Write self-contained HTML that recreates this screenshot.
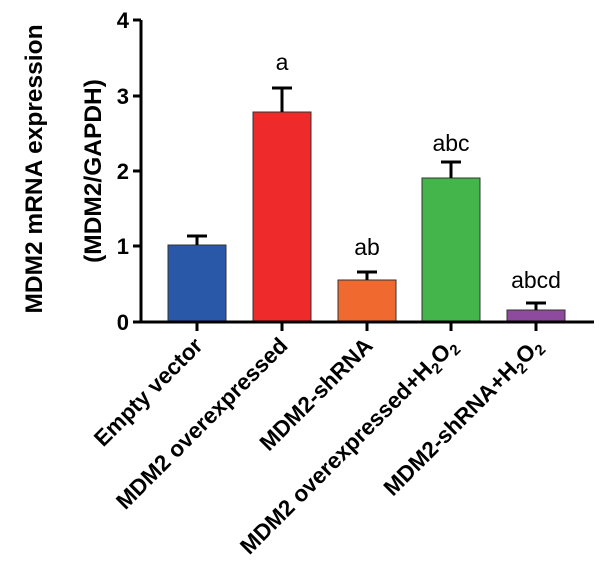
<!DOCTYPE html>
<html><head><meta charset="utf-8"><style>body{margin:0;background:#fff}</style></head><body>
<svg width="604" height="573" xmlns="http://www.w3.org/2000/svg" font-family="Liberation Sans, sans-serif">
<g stroke="#333" stroke-width="1">
<rect x="168" y="245" width="58" height="77" fill="#2a58a8"/>
<rect x="253" y="112" width="58" height="210" fill="#ee2a2a"/>
<rect x="338" y="280" width="58" height="42" fill="#f06a30"/>
<rect x="422" y="178" width="58" height="144" fill="#44b54a"/>
<rect x="507" y="310" width="58" height="12" fill="#8e4a9e"/>
</g>
<g stroke="#000" stroke-width="3" fill="none">
<path d="M197 245V236M187 236H207"/>
<path d="M282 112V88M272 88H292"/>
<path d="M367 280V272M357 272H377"/>
<path d="M451 178V162M441 162H461"/>
<path d="M536 310V303M526 303H546"/>
<path d="M141 20V322H594"/>
<path d="M133 20H141M133 96H141M133 171H141M133 246H141M133 322H141"/>
<path d="M197 322V331M282 322V331M367 322V331M451 322V331M536 322V331"/>
</g>
<g font-size="22" font-weight="bold" text-anchor="end">
<text x="129" y="28">4</text><text x="129" y="104">3</text><text x="129" y="179">2</text><text x="129" y="254">1</text><text x="129" y="330">0</text>
</g>
<g font-size="23" text-anchor="middle">
<text x="282" y="70">a</text><text x="367" y="255">ab</text><text x="451" y="151">abc</text><text x="536" y="288">abcd</text>
</g>
<g font-size="24.5" font-weight="bold" text-anchor="middle">
<text transform="translate(42,169) rotate(-90)">MDM2 mRNA expression</text>
<text transform="translate(101,171) rotate(-90)">(MDM2/GAPDH)</text>
</g>
<g font-size="22.5" font-weight="bold" text-anchor="end">
<text transform="translate(204,347) rotate(-45)">Empty vector</text>
<text transform="translate(289,347) rotate(-45)">MDM2 overexpressed</text>
<text transform="translate(374,347) rotate(-45)">MDM2-shRNA</text>
<text transform="translate(458,347) rotate(-45)">MDM2 overexpressed+H<tspan font-size="15" dy="5">2</tspan><tspan dy="-5">O</tspan><tspan font-size="15" dy="5">2</tspan></text>
<text transform="translate(543,347) rotate(-45)">MDM2-shRNA+H<tspan font-size="15" dy="5">2</tspan><tspan dy="-5">O</tspan><tspan font-size="15" dy="5">2</tspan></text>
</g>
</svg>
</body></html>
